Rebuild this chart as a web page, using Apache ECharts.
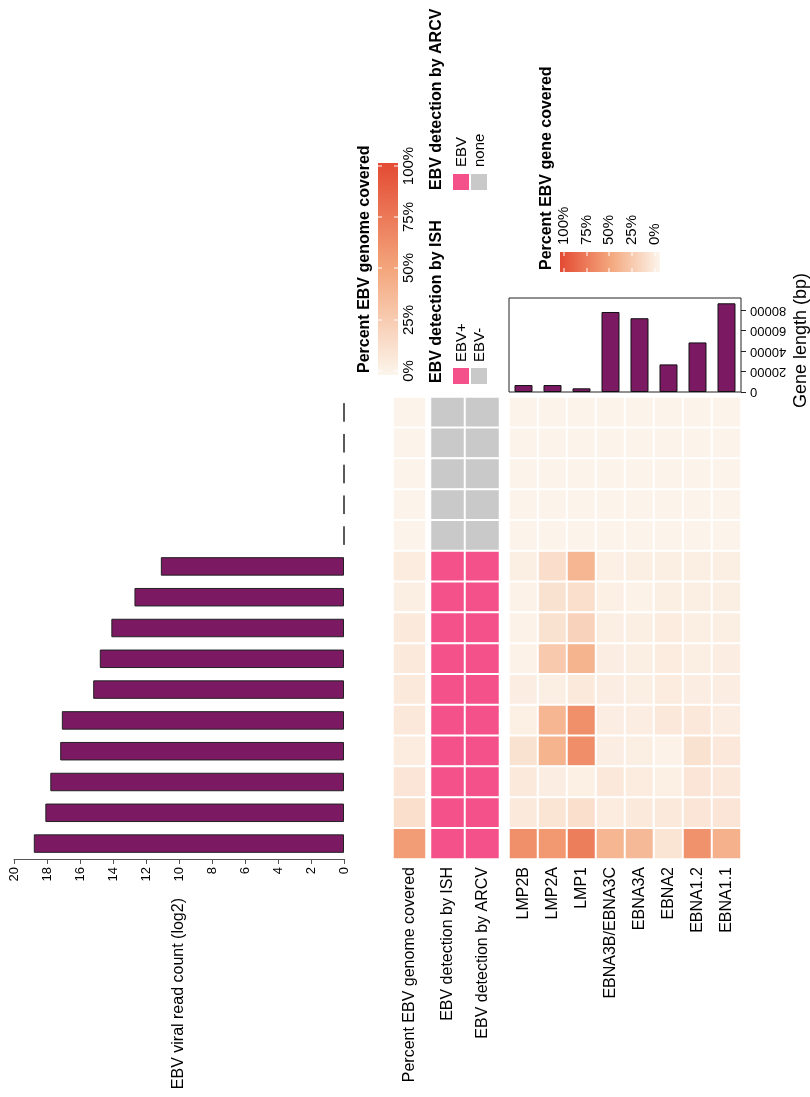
<!DOCTYPE html>
<html>
  <head>
    <meta charset="utf-8" />
    <title>EBV heatmap</title>
    <script src="https://cdn.jsdelivr.net/npm/echarts/dist/echarts.min.js"></script>
    <style>
      body { margin: 0; background: #fff; }
    </style>
  </head>
  <body>
    <div id="main" style="width: 810px; height: 1097px;"></div>
    <script type="text/javascript">
      var myChart = echarts.init(document.getElementById('main'));

      // samples, top to bottom
      var samples = ['S01', 'S02', 'S03', 'S04', 'S05', 'S06', 'S07', 'S08',
                     'S09', 'S10', 'S11', 'S12', 'S13', 'S14', 'S15'];
      var readCountLog2 = [0, 0, 0, 0, 0, 11.1, 12.7, 14.1, 14.8, 15.2, 17.1, 17.2, 17.8, 18.1, 18.8];
      var genomeCovered = [1, 1, 1, 1, 1, 6, 4, 7, 7, 7, 8, 6, 10, 14, 55];
      var ishStatus = ['EBV-', 'EBV-', 'EBV-', 'EBV-', 'EBV-', 'EBV+', 'EBV+', 'EBV+',
                       'EBV+', 'EBV+', 'EBV+', 'EBV+', 'EBV+', 'EBV+', 'EBV+'];
      var arcvStatus = ['none', 'none', 'none', 'none', 'none', 'EBV', 'EBV', 'EBV',
                        'EBV', 'EBV', 'EBV', 'EBV', 'EBV', 'EBV', 'EBV'];
      var detectCols = ['EBV detection by ISH', 'EBV detection by ARCV'];

      var genes = ['LMP2B', 'LMP2A', 'LMP1', 'EBNA3B/EBNA3C', 'EBNA3A', 'EBNA2', 'EBNA1.2', 'EBNA1.1'];
      var geneLength = [6800, 6800, 3600, 78300, 72200, 27000, 48500, 86800];
      // percent of each gene covered, one row per sample
      var geneCovered = [
        [1, 1, 1, 1, 1, 1, 1, 1],
        [1, 1, 1, 1, 1, 1, 1, 1],
        [1, 1, 1, 1, 1, 1, 1, 1],
        [1, 1, 1, 1, 1, 1, 1, 1],
        [1, 1, 1, 1, 1, 1, 1, 1],
        [4, 15, 40, 3, 4, 4, 4, 4],
        [2, 12, 14, 3, 2, 4, 4, 4],
        [2, 12, 22, 4, 4, 6, 4, 4],
        [2, 28, 42, 5, 4, 6, 4, 5],
        [5, 4, 7, 5, 4, 6, 5, 5],
        [3, 40, 62, 5, 5, 8, 8, 5],
        [12, 42, 63, 5, 4, 2, 12, 8],
        [7, 5, 3, 8, 6, 3, 10, 8],
        [7, 11, 14, 6, 7, 7, 10, 10],
        [62, 57, 72, 40, 38, 11, 61, 43]
      ];
      var pctTicks = ['0%', '25%', '50%', '75%', '100%'];
      var lengthTicks = [0, 20000, 40000, 60000, 80000];

      var purple = '#7b1a62';
      var pink = '#f4508a';
      var grey = '#c9c9c9';
      var ramp = ['#fcf5ec', '#f4a67c', '#e34a33'];
      var font = 'Liberation Sans, Arial, sans-serif';

      var genomeData = genomeCovered.map(function (v, i) { return [0, i, v]; });
      var detectData = [];
      samples.forEach(function (s, i) {
        detectData.push([0, i, ishStatus[i] === 'EBV+' ? 1 : 0]);
        detectData.push([1, i, arcvStatus[i] === 'EBV' ? 1 : 0]);
      });
      var geneData = [];
      geneCovered.forEach(function (row, i) {
        row.forEach(function (v, j) { geneData.push([j, i, v]); });
      });

      var rowsTop = 397, rowsH = 462;

      function catX(idx, names) {
        return {
          type: 'category', gridIndex: idx, data: names,
          axisLine: { show: false }, axisTick: { show: false },
          axisLabel: { rotate: 90, fontSize: 16, color: '#000', margin: 8, fontFamily: font },
          splitLine: { show: false }
        };
      }
      function catY(idx) {
        return { type: 'category', gridIndex: idx, data: samples, inverse: true, show: false };
      }
      function gradient(x2, y2) {
        return {
          type: 'linear', x: 0, y: 0, x2: x2, y2: y2,
          colorStops: [{ offset: 0, color: ramp[2] }, { offset: 0.5, color: ramp[1] }, { offset: 1, color: ramp[0] }]
        };
      }

      // legend pieces, text reads bottom to top
      function vText(x, y, txt, size, bold, align) {
        return {
          type: 'text', x: x, y: y, rotation: Math.PI / 2,
          style: { text: txt, fill: '#000', align: align || 'left', verticalAlign: 'middle',
                   font: (bold ? 'bold ' : '') + size + 'px ' + font }
        };
      }
      var graphics = [];
      // Percent EBV genome covered legend (vertical bar)
      graphics.push(vText(365, 373, 'Percent EBV genome covered', 16, true));
      graphics.push({ type: 'rect', shape: { x: 378, y: 163, width: 20, height: 212 }, style: { fill: gradient(0, 1) } });
      var gTickY = [371, 320, 268, 217, 166];
      pctTicks.forEach(function (t, i) {
        graphics.push(vText(409, gTickY[i], t, 15, false, 'center'));
        graphics.push({ type: 'line', shape: { x1: 378, y1: gTickY[i], x2: 382, y2: gTickY[i] }, style: { stroke: '#fff', lineWidth: 1 } });
        graphics.push({ type: 'line', shape: { x1: 394, y1: gTickY[i], x2: 398, y2: gTickY[i] }, style: { stroke: '#fff', lineWidth: 1 } });
      });
      // EBV detection by ISH
      graphics.push(vText(437, 383, 'EBV detection by ISH', 16, true));
      graphics.push({ type: 'rect', shape: { x: 453, y: 368, width: 16, height: 16 }, style: { fill: pink } });
      graphics.push({ type: 'rect', shape: { x: 471, y: 368, width: 16, height: 16 }, style: { fill: grey } });
      graphics.push(vText(462, 362, 'EBV+', 15));
      graphics.push(vText(480, 362, 'EBV-', 15));
      // EBV detection by ARCV
      graphics.push(vText(437, 190, 'EBV detection by ARCV', 16, true));
      graphics.push({ type: 'rect', shape: { x: 453, y: 174, width: 16, height: 16 }, style: { fill: pink } });
      graphics.push({ type: 'rect', shape: { x: 471, y: 174, width: 16, height: 16 }, style: { fill: grey } });
      graphics.push(vText(462, 167, 'EBV', 15));
      graphics.push(vText(480, 167, 'none', 15));
      // Percent EBV gene covered legend (horizontal bar)
      graphics.push(vText(547, 270, 'Percent EBV gene covered', 16, true));
      graphics.push({ type: 'rect', shape: { x: 560, y: 252, width: 100, height: 20 }, style: { fill: gradient(1, 0) } });
      var hTickX = [655, 632, 609, 587, 564];
      pctTicks.forEach(function (t, i) {
        graphics.push(vText(hTickX[i], 245, t, 15));
        graphics.push({ type: 'line', shape: { x1: hTickX[i], y1: 252, x2: hTickX[i], y2: 256 }, style: { stroke: '#fff', lineWidth: 1 } });
        graphics.push({ type: 'line', shape: { x1: hTickX[i], y1: 268, x2: hTickX[i], y2: 272 }, style: { stroke: '#fff', lineWidth: 1 } });
      });
      // title of the gene length annotation
      graphics.push(vText(801, 408, 'Gene length (bp)', 18));

      var option = {
        animation: false,
        backgroundColor: '#fff',
        textStyle: { fontFamily: font },
        grid: [
          { left: 14, top: rowsTop, width: 330, height: rowsH },
          { left: 393, top: rowsTop, width: 33, height: rowsH },
          { left: 430.5, top: rowsTop, width: 69, height: rowsH },
          { left: 509, top: rowsTop, width: 232, height: rowsH },
          { left: 509, top: 298, width: 232, height: 94, show: true, borderColor: '#222', borderWidth: 1,
            backgroundColor: 'transparent' }
        ],
        xAxis: [
          {
            type: 'value', gridIndex: 0, inverse: true, min: 0, max: 20, interval: 2,
            position: 'bottom',
            axisLine: { show: true, lineStyle: { color: '#555' } },
            axisTick: { show: true, length: 5, lineStyle: { color: '#555' } },
            axisLabel: { rotate: 90, fontSize: 13, color: '#000', margin: 8, fontFamily: font },
            splitLine: { show: false },
            name: 'EBV viral read count (log2)', nameLocation: 'middle', nameRotate: 90, nameGap: 39,
            nameTextStyle: { fontSize: 16, color: '#000', fontFamily: font }
          },
          catX(1, ['Percent EBV genome covered']),
          catX(2, detectCols),
          catX(3, genes),
          {
            type: 'category', gridIndex: 4, data: genes,
            axisLine: { show: false }, axisTick: { show: false }, axisLabel: { show: false }
          }
        ],
        yAxis: [
          catY(0), catY(1), catY(2), catY(3),
          {
            type: 'value', gridIndex: 4, position: 'right', min: 0, max: 92000,
            axisLine: { show: false },
            axisTick: { show: true, length: 5, lineStyle: { color: '#222' }, customValues: lengthTicks },
            axisLabel: { rotate: 180, fontSize: 13, color: '#000', margin: 9, fontFamily: font,
                         customValues: lengthTicks,
                         formatter: function (v) { return String(v); } },
            splitLine: { show: false }
          }
        ],
        visualMap: [
          { type: 'continuous', show: false, min: 0, max: 100, dimension: 2, seriesIndex: [1, 3],
            inRange: { color: ramp } },
          { type: 'piecewise', show: false, dimension: 2, seriesIndex: 2,
            pieces: [{ value: 1, color: pink }, { value: 0, color: grey }] }
        ],
        series: [
          {
            name: 'EBV viral read count (log2)', type: 'bar', xAxisIndex: 0, yAxisIndex: 0,
            data: readCountLog2, barWidth: '60%',
            itemStyle: { color: purple, borderColor: '#222', borderWidth: 1 }
          },
          {
            name: 'Percent EBV genome covered', type: 'heatmap', xAxisIndex: 1, yAxisIndex: 1,
            data: genomeData, itemStyle: { borderColor: '#fff', borderWidth: 2 },
            emphasis: { disabled: true }
          },
          {
            name: 'EBV detection', type: 'heatmap', xAxisIndex: 2, yAxisIndex: 2,
            data: detectData, itemStyle: { borderColor: '#fff', borderWidth: 2 },
            emphasis: { disabled: true }
          },
          {
            name: 'Percent EBV gene covered', type: 'heatmap', xAxisIndex: 3, yAxisIndex: 3,
            data: geneData, itemStyle: { borderColor: '#fff', borderWidth: 2 },
            emphasis: { disabled: true }
          },
          {
            name: 'Gene length (bp)', type: 'bar', xAxisIndex: 4, yAxisIndex: 4,
            data: geneLength, barWidth: '62%',
            itemStyle: { color: purple, borderColor: '#111', borderWidth: 1 }
          }
        ],
        graphic: graphics
      };

      myChart.setOption(option);
    </script>
  </body>
</html>
